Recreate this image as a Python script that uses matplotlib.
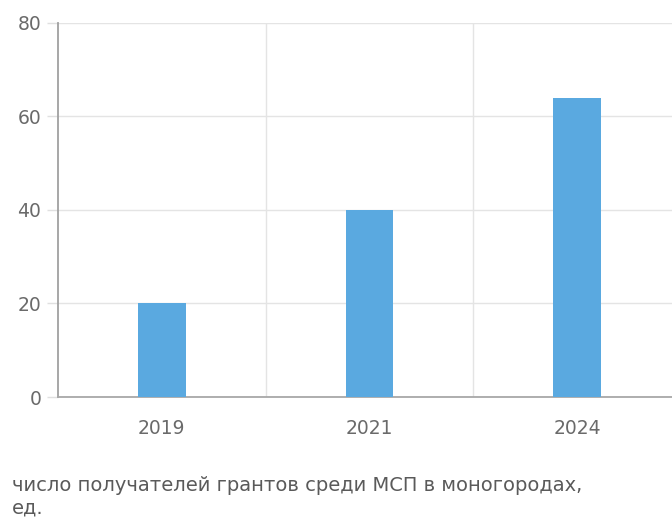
import matplotlib.pyplot as plt

years = ['2019', '2021', '2024']
values = [20, 40, 64]
y_ticks = [0, 20, 40, 60, 80]
caption = 'число получателей грантов среди МСП в моногородах,\nед.'

plt.rcParams['font.family'] = ['DejaVu Sans']

fig = plt.figure(figsize=(6.72, 5.21), dpi=100)
ax = fig.add_axes([0.0863, 0.238, 0.9137, 0.718])

x = list(range(len(years)))
ax.bar(x, values, width=0.23, color='#5aa9e0', zorder=3)

ax.set_xlim(-0.5, 2.457)
ax.set_ylim(0, 80)
ax.set_yticks(y_ticks)
ax.set_xticks(x)
ax.set_xticklabels(years)

# horizontal grid + category separators
ax.grid(axis='y', color='#e4e4e4', lw=1, zorder=0)
ax.set_xticks([0.5, 1.5], minor=True)
ax.grid(axis='x', which='minor', color='#e4e4e4', lw=1, zorder=0)
ax.tick_params(axis='x', which='minor', length=0)

for s in ['top', 'right']:
    ax.spines[s].set_visible(False)
ax.spines['left'].set_color('#a0a0a0')
ax.spines['bottom'].set_color('#a8a8a8')
ax.spines['left'].set_linewidth(1.3)
ax.spines['bottom'].set_linewidth(1.3)

ax.tick_params(axis='y', direction='out', length=8, width=1, color='#e0e0e0',
               labelcolor='#6a6a6a', labelsize=13.5, pad=4)
ax.yaxis.get_major_ticks()[0].tick1line.set_color('#a0a0a0')
ax.tick_params(axis='x', which='major', length=0, labelcolor='#6a6a6a',
               labelsize=13.5, pad=16)

fig.text(0.018, 0.087, caption, fontsize=14, color='#5a5a5a',
         ha='left', va='top', linespacing=1.25)

fig.savefig('out.png', dpi=100)
